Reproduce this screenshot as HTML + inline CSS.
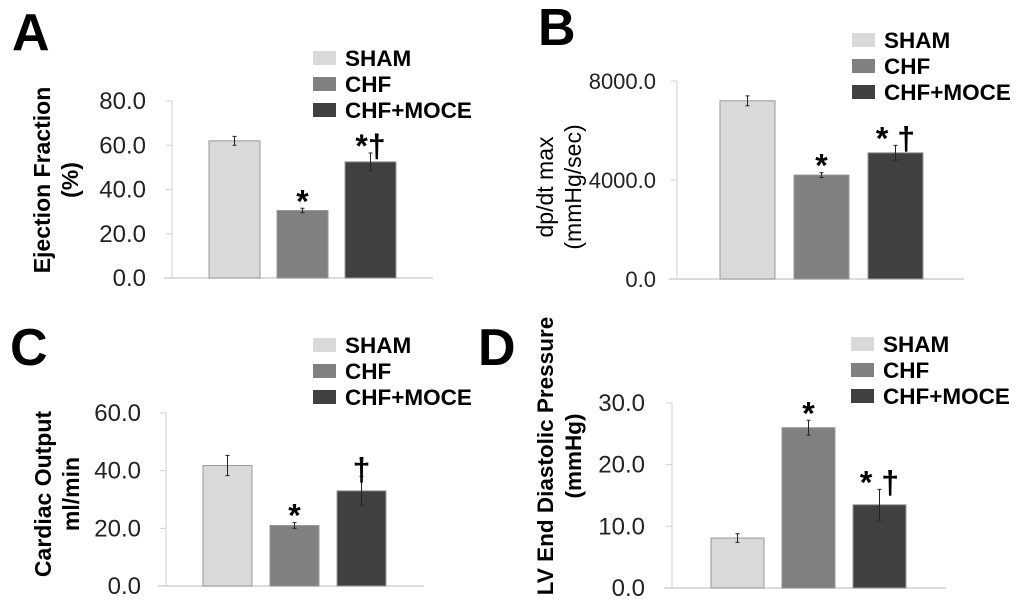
<!DOCTYPE html>
<html><head><meta charset="utf-8"><style>
body{margin:0;background:#fff;width:1024px;height:611px;overflow:hidden}
svg{display:block}
text{font-family:"Liberation Sans",sans-serif}
</style></head><body>
<svg id="fig" width="1024" height="611"></svg>
<script>
const categories = ["SHAM","CHF","CHF+MOCE"];
const colors = ["#d9d9d9","#808080","#404040"];
const valuesA = [62, 30.5, 52.5];
const errorsA = [2, 1, 4];
const ticksA = [0, 20, 40, 60, 80];
const marksA = ["", "*", "*†"];
const valuesB = [7200, 4200, 5100];
const errorsB = [200, 100, 300];
const ticksB = [0, 4000, 8000];
const marksB = ["", "*", "* †"];
const valuesC = [41.8, 21, 33];
const errorsC = [3.5, 1, 5];
const ticksC = [0, 20, 40, 60];
const marksC = ["", "*", "†"];
const valuesD = [8.1, 26, 13.5];
const errorsD = [0.7, 1.2, 2.5];
const ticksD = [0, 10, 20, 30];
const marksD = ["", "*", "* †"];

const NS="http://www.w3.org/2000/svg";
const svg=document.getElementById('fig');
function mk(tag,attrs,parent,txt){const e=document.createElementNS(NS,tag);for(const k in attrs)e.setAttribute(k,attrs[k]);if(txt!==undefined)e.textContent=txt;(parent||svg).appendChild(e);return e;}

function panel(p){
  const g=mk('g',{});
  
  
  const lt=mk('text',{x:p.lx,y:p.ly,'font-size':52,'font-weight':'bold',fill:'#000'},g,p.id);
  
  
  const maxT=p.ticks[p.ticks.length-1];
  const y=v=>p.y0-(v/maxT)*(p.y0-p.yTop);
  const ax=mk('line',{x1:p.ax,y1:p.y0,x2:p.ax,y2:p.yTop,stroke:'#d0d0d0','stroke-width':1},g);
  
  
  const bx=mk('line',{x1:p.ax-8,y1:p.y0,x2:p.axEnd,y2:p.y0,stroke:'#d0d0d0','stroke-width':1.5},g);
  
  
  p.ticks.forEach(t=>{
    mk('line',{x1:p.ax-6,y1:y(t),x2:p.ax,y2:y(t),stroke:'#d0d0d0'},g);
    const tl=mk('text',{x:p.tx,y:y(t)+8,'font-size':p.tfs,'text-anchor':'end',fill:'#222'},g,t.toFixed(1));
    
    
  });
  p.values.forEach((v,i)=>{
    const x=p.bx[i];
    const r=mk('rect',{x:x,y:y(v),width:p.bw,height:p.y0-y(v),fill:colors[i],stroke:'#999','stroke-width':1},g);
    
    
    const cx=x+p.bw/2,e=p.errors[i];
    const eb=mk('path',{d:`M${cx},${y(v+e)}V${y(v-e)}M${cx-2},${y(v+e)}H${cx+2}M${cx-2},${y(v-e)}H${cx+2}`,stroke:'#222','stroke-width':1,fill:'none'},g);
    
    
    if(p.marks[i]){
      const m=mk('text',{x:cx,y:y(v+e)+4,'font-size':32,'font-weight':'bold','text-anchor':'middle',fill:'#000'},g,p.marks[i]);
      
      
    }
  });
  categories.forEach((c,i)=>{
    const ly=p.legY+i*26;
    const lr=mk('rect',{x:p.legX,y:ly,width:23,height:14,fill:colors[i]},g);
    
    
    const lt2=mk('text',{x:p.legX+32,y:ly+15,'font-size':22.5,'font-weight':'bold',fill:'#000'},g,c);
    
    
  });
  const tg=mk('text',{transform:`translate(${p.ttx},${p.tty}) rotate(-90)`,'font-size':p.tts,'font-weight':p.tw,'text-anchor':'middle',fill:'#000'},g);
  
  
  p.title.forEach((s,k)=>{mk('tspan',{x:0,dy:k?28:0},tg,s);});
}

panel({id:'A',lx:12,ly:50,values:valuesA,errors:errorsA,ticks:ticksA,marks:marksA,ax:172,axEnd:433,y0:278,yTop:101,tx:146,tfs:24,bx:[209,277,345],bw:51,legX:313,legY:51,ttx:50,tty:180,tts:23,tw:'bold',title:['Ejection Fraction','(%)']});
panel({id:'B',lx:538,ly:45,values:valuesB,errors:errorsB,ticks:ticksB,marks:marksB,ax:677,axEnd:964,y0:279,yTop:81,tx:656,tfs:22,bx:[720,794,868],bw:55,legX:852,legY:33,ttx:553,tty:187,tts:23,tw:'normal',title:['dp/dt max','(mmHg/sec)']});
panel({id:'C',lx:10,ly:365,values:valuesC,errors:errorsC,ticks:ticksC,marks:marksC,ax:166,axEnd:424,y0:586,yTop:413,tx:141,tfs:24,bx:[203,270,337],bw:49,legX:313,legY:338,ttx:51,tty:494,tts:23,tw:'bold',title:['Cardiac Output','ml/min']});
panel({id:'D',lx:478,ly:365,values:valuesD,errors:errorsD,ticks:ticksD,marks:marksD,ax:672,axEnd:946,y0:588,yTop:403,tx:645,tfs:24,bx:[711,782,853],bw:53,legX:851,legY:337,ttx:553,tty:456,tts:22.5,tw:'bold',title:['LV End Diastolic Pressure','(mmHg)']});
</script>
</body></html>
